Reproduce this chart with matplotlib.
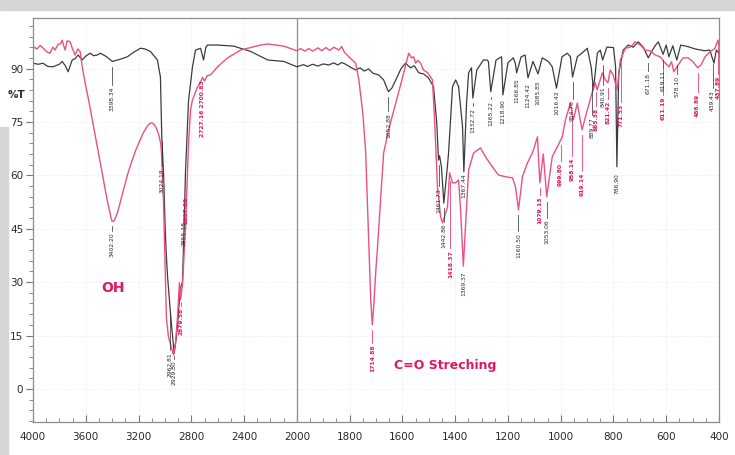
"""
FTIR overlay: reference (dark) vs. product (pink) spectrum.
Split wavenumber axis: 4000-2000 at half the scale of 2000-400.
"""

import matplotlib

matplotlib.use("Agg")
import matplotlib.pyplot as plt
import numpy as np
from matplotlib.patches import Rectangle

OUT_FILE = "out.png"

# dark trace
black_wn = [4000, 3960, 3924, 3890, 3848, 3800, 3779, 3755, 3734, 3703, 3680, 3658, 3627,
            3600, 3567, 3540, 3513, 3490, 3450, 3398, 3340, 3285, 3240, 3186, 3150, 3110,
            3057, 3034, 3024, 3010, 2998, 2990, 2980, 2955, 2930, 2915, 2900, 2885, 2867,
            2855, 2844, 2821, 2791, 2768, 2730, 2707, 2690, 2677, 2601, 2479, 2350, 2220,
            2099, 2000, 1975, 1960, 1940, 1920, 1900, 1879, 1860, 1845, 1830, 1815, 1795,
            1777, 1760, 1745, 1728, 1712, 1690, 1671,
            1653, 1640, 1625, 1605, 1588, 1569, 1555, 1538, 1520, 1501, 1482, 1470, 1463,
            1459, 1452, 1443, 1430, 1425, 1410, 1398, 1387, 1378, 1372, 1367, 1357, 1349,
            1338, 1333, 1318, 1293, 1280, 1274, 1265, 1245, 1224, 1219, 1200, 1180, 1172,
            1167, 1150, 1135, 1124, 1105, 1086, 1070, 1047, 1032, 1016, 995, 975, 963, 955,
            937, 914, 899, 884, 876, 861, 850, 841, 825, 800, 792, 787, 780, 763, 744, 725,
            706, 687, 668, 652, 640, 630, 612, 600, 590, 575, 560, 545, 520, 490, 455, 435,
            419, 410, 400]
black_t = [91.5, 91.2, 91.5, 90.6, 90.5, 91.2, 92.0, 90.8, 89.1, 92.4, 92.8, 93.8, 92.4,
           93.5, 94.3, 93.6, 93.8, 94.3, 93.5, 92.0, 92.6, 93.3, 94.5, 95.7, 95.5, 94.8,
           92.4, 87.6, 71.0, 60.0, 45.0, 38.0, 31.5, 20.0, 10.0, 14.0, 20.0, 28.0, 30.0,
           45.0, 61.0, 81.0, 90.5, 95.2, 95.7, 92.4, 96.0, 96.6, 96.6, 96.3, 94.8, 92.4,
           92.0, 90.5, 91.1, 90.6, 91.2, 90.7, 91.3, 91.0, 91.6, 91.0, 91.7, 91.2, 90.3,
           89.6, 90.2, 89.3, 89.9, 88.7, 88.2, 86.8,
           83.5, 84.5, 86.8, 90.0, 91.5, 90.2, 90.8, 88.8, 88.5, 87.4, 84.9, 75.0, 64.3,
           65.5, 62.4, 52.2, 62.0, 66.3, 84.9, 86.8, 84.9, 78.0, 73.6, 61.0, 80.0, 88.8,
           90.2, 81.7, 89.6, 92.4, 92.4, 92.0, 83.5, 92.4, 93.3, 82.6, 91.6, 93.0, 91.5,
           88.8, 93.3, 93.8, 87.4, 92.0, 88.5, 93.0, 92.0, 90.5, 84.5, 93.3, 94.3, 93.3, 87.6,
           93.3, 94.7, 95.7, 90.2, 84.0, 94.3, 95.2, 92.4, 96.0, 95.9, 90.5, 62.4, 88.8, 95.2,
           96.6, 96.0, 97.5, 96.0, 93.0, 95.2, 96.6, 97.5, 94.0, 96.6, 93.3, 96.4, 92.4,
           96.6, 96.2, 95.5, 95.0, 95.2, 91.5, 95.2, 94.3]

# pink trace
pink_wn = [4000, 3970, 3945, 3909, 3890, 3871, 3850, 3833, 3810, 3790, 3779, 3768, 3757,
           3740, 3719, 3700, 3681, 3660, 3643, 3627, 3615, 3600, 3580, 3560, 3540, 3520,
           3500, 3480, 3460, 3440, 3420, 3410, 3402, 3392, 3380, 3360, 3338, 3310, 3285,
           3255, 3224, 3190, 3160, 3130, 3110, 3095, 3080, 3065, 3050, 3035, 3027, 3011,
           2989, 2973, 2950,
           2935, 2920, 2905, 2890, 2882, 2867, 2844, 2821, 2806, 2791, 2753, 2727, 2715,
           2700, 2680, 2654, 2601, 2525, 2426, 2274, 2220, 2099, 2000, 1985, 1970, 1955,
           1940, 1920, 1905, 1890, 1875, 1860,
           1841, 1830, 1820, 1803, 1777, 1765, 1750, 1739, 1728, 1720, 1714, 1708, 1700, 1694,
           1682, 1671, 1652, 1625, 1599, 1576, 1565, 1557, 1550, 1542, 1531, 1520, 1504,
           1486, 1478, 1467, 1455, 1448, 1429, 1421, 1410, 1398, 1387, 1380, 1369, 1349,
           1330, 1304, 1285, 1259, 1236, 1209, 1183, 1171, 1160, 1145, 1126, 1107, 1088,
           1079, 1066, 1053, 1032, 1013, 994, 982, 963, 952, 937, 926, 919, 896, 880, 869,
           862, 842, 831, 821, 812, 800, 786, 774, 755, 736, 717, 698, 680, 661, 642, 623,
           608, 590, 580, 571, 555, 536, 517, 498, 481, 468, 453, 434, 415, 404, 400]
pink_t = [96.2, 95.5, 96.5, 95.2, 94.6, 94.3, 96.0, 95.2, 96.8, 97.0, 98.0, 96.5, 95.2,
          97.8, 97.5, 95.5, 93.8, 95.5, 94.8, 90.5, 88.0, 85.0, 81.5, 77.5, 73.5, 69.5,
          65.5, 61.5, 57.5, 53.5, 50.0, 48.3, 47.2, 47.0, 47.6, 49.5, 52.5, 56.5, 60.0,
          63.5, 66.8, 69.8, 72.2, 74.0, 74.7, 74.7, 74.2, 73.2, 71.8, 69.5, 67.0, 53.0,
          20.0, 14.6, 11.5,
          9.5, 13.0, 20.0, 29.8, 25.0, 29.2, 45.0, 69.0, 78.4, 81.2, 84.8, 86.5, 87.5,
          86.5, 88.0, 88.2, 90.5, 93.0, 95.2, 96.6, 96.9, 96.3, 95.0, 95.6, 94.9, 95.6,
          94.9, 95.8, 95.0, 95.9, 95.1, 96.0,
          95.2, 96.2, 94.6, 93.3, 91.5, 86.8, 77.5, 66.3, 42.7, 25.0, 18.0, 24.0, 34.0, 40.0,
          54.0, 66.3, 72.8, 80.3, 87.6, 94.3, 93.0, 93.3, 91.5, 92.3, 91.5, 89.6, 88.8,
          86.8, 75.6, 56.7, 48.3, 46.6, 51.1, 60.7, 57.9, 57.9, 58.7, 51.1, 34.5, 61.5,
          66.3, 67.7, 65.2, 62.4, 60.1, 59.6, 59.3, 56.7, 50.3, 59.6, 63.5, 66.3, 70.8,
          57.9, 66.0, 54.0, 65.2, 68.0, 70.8, 75.6, 80.3, 75.6, 80.3, 75.6, 72.8, 79.2,
          83.4, 86.0, 84.0, 88.8, 86.8, 86.0, 89.6, 88.0, 84.0, 92.4, 95.7, 96.0, 97.5,
          96.6, 95.2, 95.0, 93.8, 93.3, 91.9, 90.5, 91.9, 89.1, 91.0, 93.0, 93.0, 91.9,
          90.2, 91.0, 93.3, 94.7, 95.7, 98.0, 96.3]

# peak labels: (wavenumber, %T at top of text, text)
black_marks = [(3398, 85.0, "3398.34"), (3024, 62.0, "3024.18"), (2962, 10.4, "2962.81"),
               (2855, 47.0, "2855.18"), (1653, 77.5, "1652.88"), (1463, 56.5, "1461.73"),
               (1443, 46.5, "1442.86"), (1367, 60.5, "1367.44"), (1333, 79.0, "1332.72"),
               (1265, 81.0, "1265.22"), (1219, 81.5, "1218.90"), (1167, 87.4, "1166.85"),
               (1124, 86.0, "1124.42"), (1086, 86.8, "1085.85"), (1016, 84.0, "1016.42"),
               (955, 81.0, "954.70"), (880, 76.4, "889.77"), (841, 85.0, "840.91"),
               (787, 60.5, "786.90"), (668, 88.8, "671.18"), (612, 89.6, "619.11"),
               (560, 88.0, "578.10"), (424, 84.0, "439.43")]
pink_marks = [(3402, 44.0, "3402.20"), (2930, 8.0, "2929.80"), (1369, 33.0, "1369.37"),
              (1160, 43.8, "1160.50"), (1053, 47.5, "1053.06")]
pink_bold_marks = [(2879, 22.7, "2879.58"), (2838, 54.0, "2837.89"),
                   (2714, 86.8, "2727.16 2700.83"), (1714, 12.4, "1714.88"),
                   (1418, 39.0, "1418.37"), (1079, 54.0, "1079.13"), (1000, 63.5, "999.80"),
                   (958, 65.0, "958.14"), (919, 60.7, "919.14"), (865, 79.0, "865.38"),
                   (821, 81.0, "821.42"), (771, 80.0, "771.53"), (611, 82.0, "611.19"),
                   (481, 83.0, "486.89"), (403, 88.0, "437.89")]

x_major = [4000, 3600, 3200, 2800, 2400, 2000, 1800, 1600, 1400, 1200, 1000, 800, 600, 400]
y_major = [0, 15, 30, 45, 60, 75, 90]

BLACK = "#3c3c3c"
PINK = "#ec4f85"
PINK_TXT = "#e6145f"
TXT = "#2a2a2a"


def fwd(w):
    w = np.asarray(w, dtype=float)
    return np.where(w >= 2000, w, 2 * w - 2000)


def inv(u):
    u = np.asarray(u, dtype=float)
    return np.where(u >= 2000, u, (u + 2000) / 2)


def hang(ax, wn, t, marks, color, bold=False):
    wn_r = np.asarray(wn, dtype=float)[::-1]
    t_r = np.asarray(t, dtype=float)[::-1]
    for w, top, txt in marks:
        peak = np.interp(w, wn_r, t_r)
        if peak - 1.5 > top + 0.5:
            ax.plot([w, w], [peak - 1.5, top + 0.5], color=color, lw=0.5)
        ax.text(w, top, txt, rotation=90, ha="center", va="top", fontsize=4.3,
                color=color, fontweight="bold" if bold else "normal")


def main() -> None:
    fig = plt.figure(figsize=(7.35, 4.55), dpi=100)
    fig.patches.append(Rectangle((0, 1 - 10 / 455), 1, 10 / 455,
                                 transform=fig.transFigure, color="#d6d6d6", zorder=0))
    fig.patches.append(Rectangle((0, 0), 8 / 735, 0.72,
                                 transform=fig.transFigure, color="#d6d6d6", zorder=0))

    ax = fig.add_axes([33 / 735, 1 - 422 / 455, 686 / 735, 404 / 455])
    ax.set_xscale("function", functions=(fwd, inv))
    ax.set_xlim(4000, 400)
    ax.set_ylim(-9.3, 104.2)

    ax.grid(color="#e4e4e4", ls=":", lw=0.6)
    ax.axvline(2000, color="#8c8c8c", lw=0.9)

    ax.plot(black_wn, black_t, color=BLACK, lw=0.9)
    ax.plot(pink_wn, pink_t, color=PINK, lw=1.0)

    hang(ax, black_wn, black_t, black_marks, TXT)
    hang(ax, pink_wn, pink_t, pink_marks, TXT)
    hang(ax, pink_wn, pink_t, pink_bold_marks, PINK_TXT, bold=True)

    ax.text(3392, 28.4, "OH", color=PINK_TXT, fontsize=10, fontweight="bold",
            ha="center", va="center")
    ax.text(1633, 6.7, "C=O Streching", color=PINK_TXT, fontsize=9, fontweight="bold",
            ha="left", va="center")

    ax.set_xticks(x_major)
    ax.set_xticklabels([str(v) for v in x_major])
    ax.set_xticks(list(range(3900, 2000, -100)) + list(range(1950, 400, -50)), minor=True)
    ax.set_yticks(y_major)
    ax.set_yticks(list(range(-9, 104, 3)), minor=True)

    ax.tick_params(axis="x", which="both", direction="in", colors="#777777",
                   labelcolor=TXT, labelsize=7.5, pad=7)
    ax.tick_params(axis="x", which="major", length=5)
    ax.tick_params(axis="x", which="minor", length=3)
    ax.tick_params(axis="y", which="both", direction="out", colors="#777777",
                   labelcolor=TXT, labelsize=7.5, pad=2)
    ax.tick_params(axis="y", which="major", length=5)
    ax.tick_params(axis="y", which="minor", length=3)
    for side in ax.spines.values():
        side.set_color("#8c8c8c")
        side.set_linewidth(0.9)

    fig.text(17 / 735, 1 - 95 / 455, "%T", fontsize=7.5, color=TXT,
             ha="center", va="center", fontweight="bold")

    fig.savefig(OUT_FILE, dpi=100)
    plt.close(fig)


if __name__ == "__main__":
    main()
